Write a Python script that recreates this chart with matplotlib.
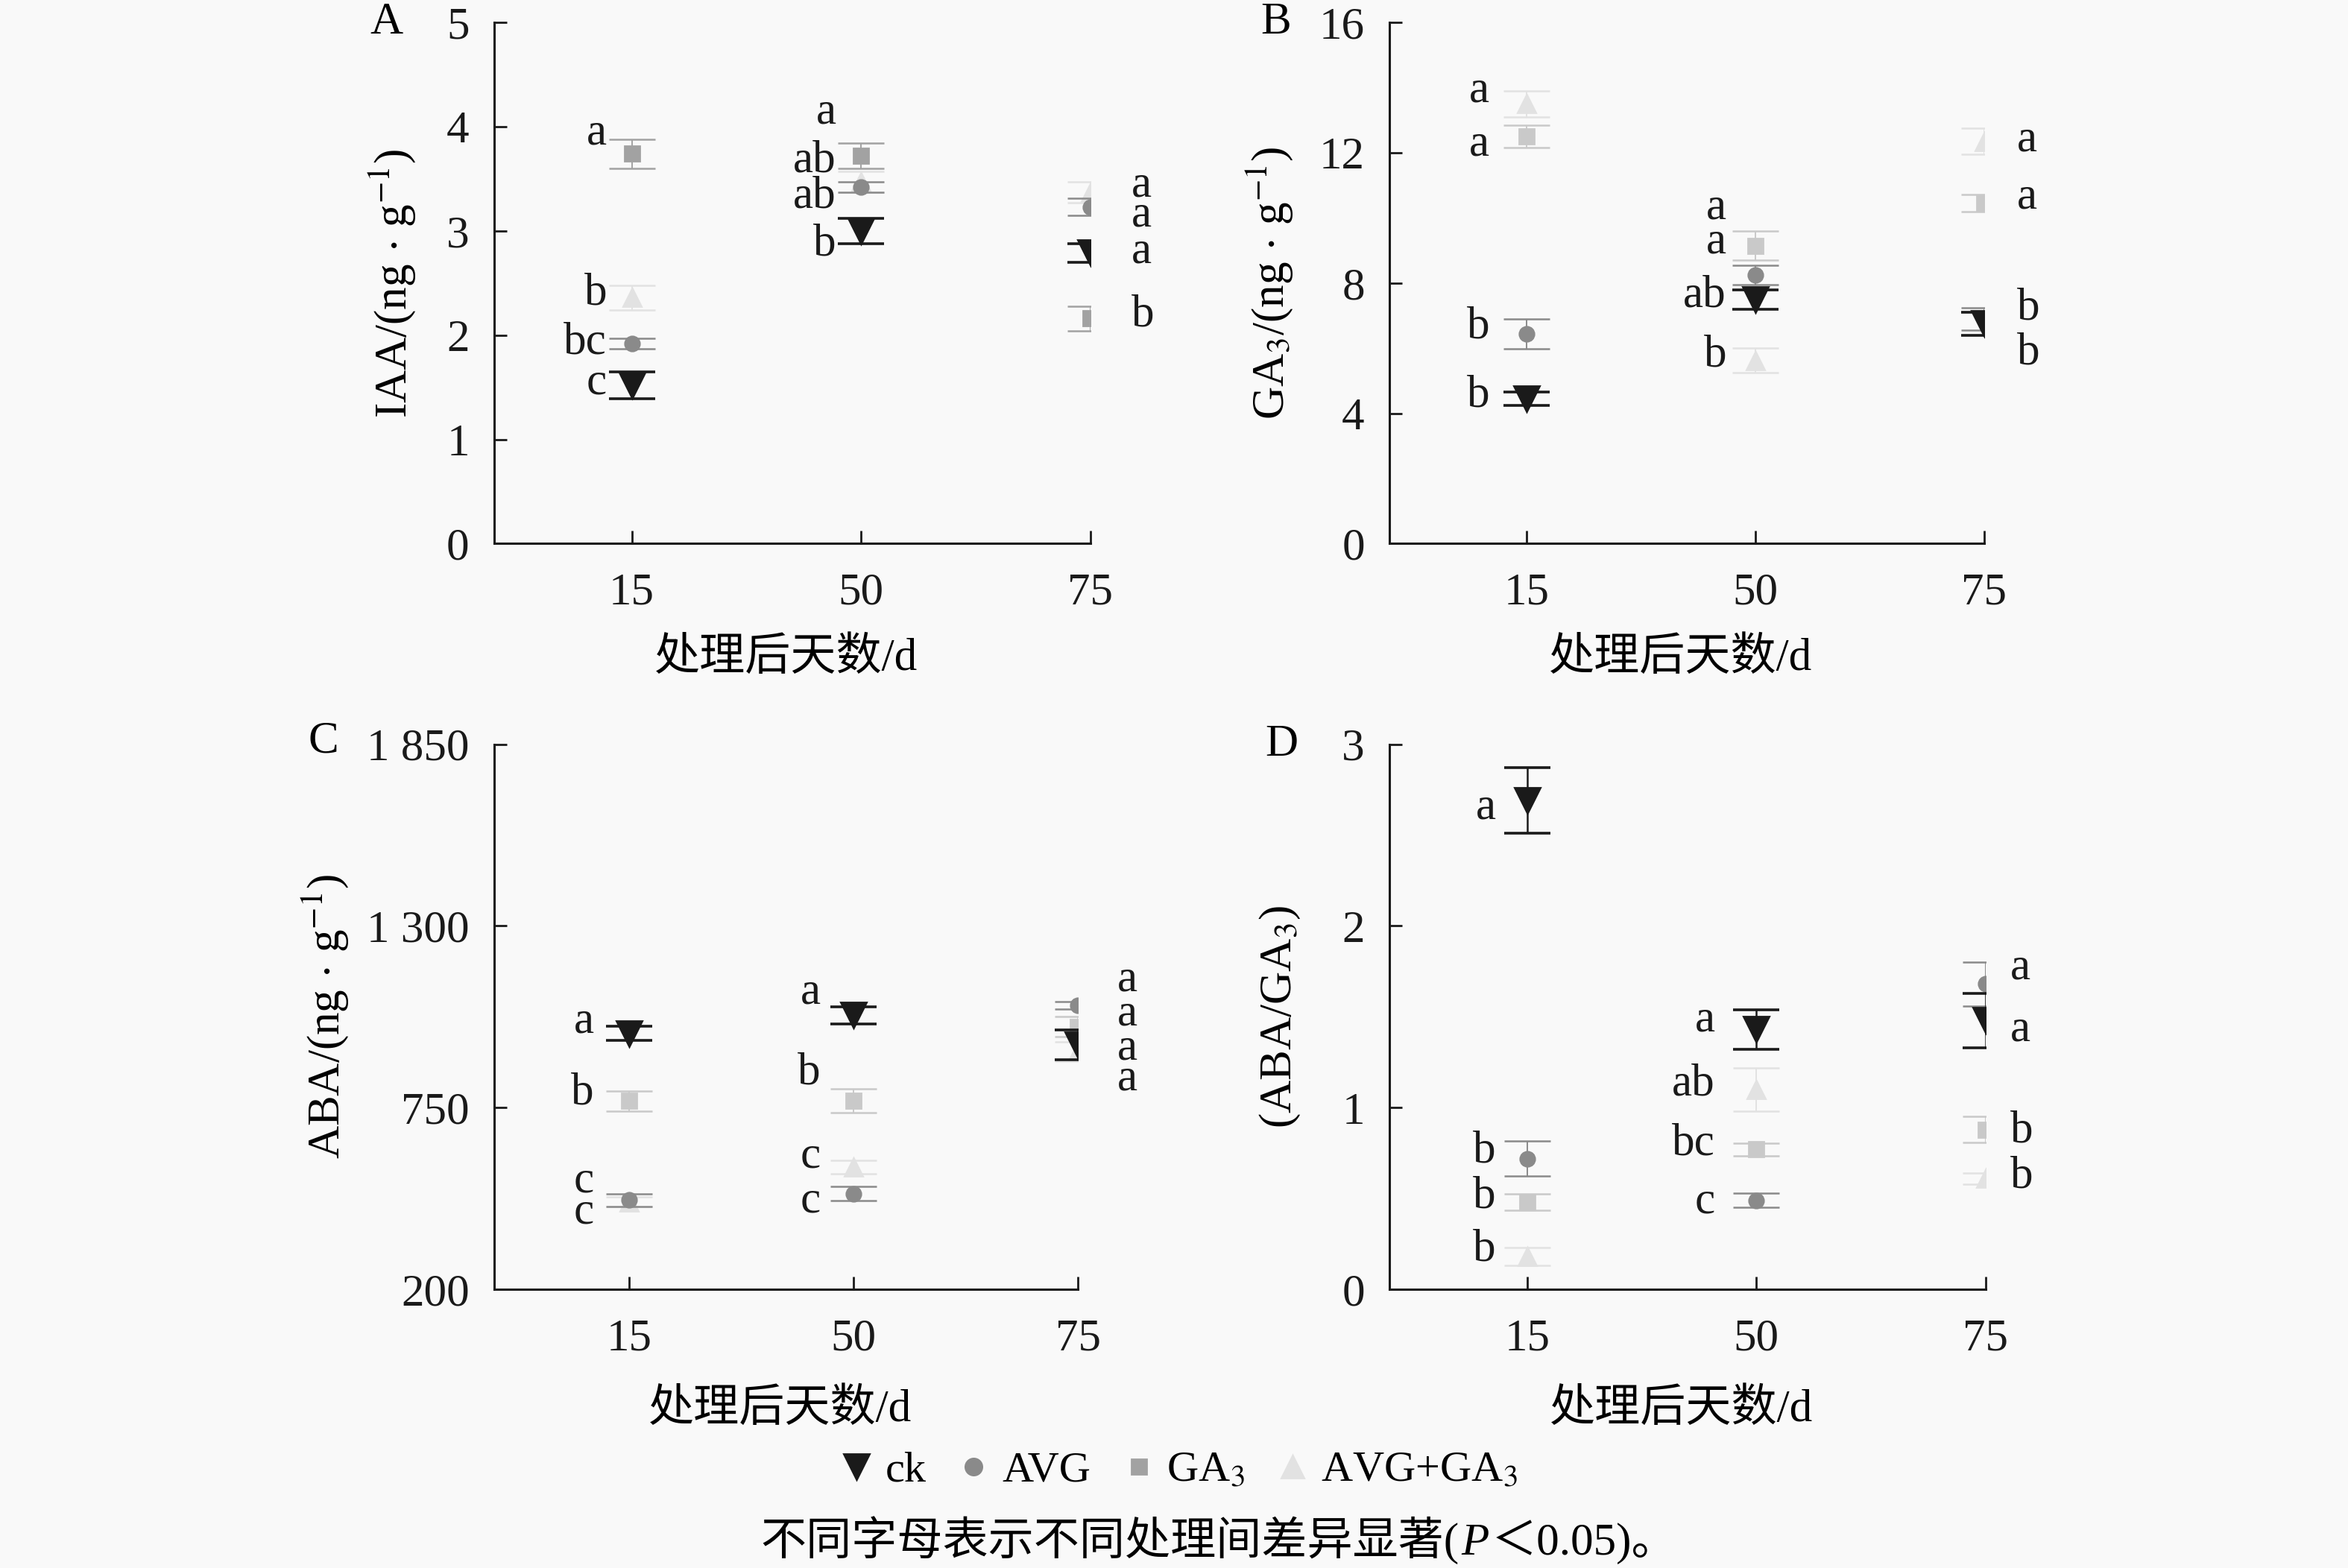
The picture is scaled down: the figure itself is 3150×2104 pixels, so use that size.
import matplotlib
matplotlib.use('Agg')
import matplotlib.pyplot as plt
from matplotlib.lines import Line2D

# ---------------- data ----------------
days = ['15', '50', '75']
treatments = ['ck', 'AVG', 'GA3', 'AVG+GA3']

# A: IAA
iaa_mean = {'ck': [1.52, 3.00, 2.79], 'AVG': [1.92, 3.42, 3.23],
            'GA3': [3.74, 3.72, 2.16], 'AVG+GA3': [2.36, 3.47, 3.37]}
iaa_err = {'ck': [0.13, 0.12, 0.09], 'AVG': [0.05, 0.05, 0.08],
           'GA3': [0.14, 0.12, 0.12], 'AVG+GA3': [0.12, 0.10, 0.10]}
iaa_lab = [['a', 'b', 'bc', 'c'], ['a', 'ab', 'ab', 'b'], ['a', 'a', 'a', 'b']]
iaa_lab_y = [[3.94, 2.40, 1.93, 1.54], [4.14, 3.67, 3.33, 2.87], [3.44, 3.15, 2.80, 2.19]]

# B: GA3
ga_mean = {'ck': [4.45, 7.50, 6.75], 'AVG': [6.44, 8.25, 6.90],
           'GA3': [12.5, 9.15, 10.45], 'AVG+GA3': [13.5, 5.62, 12.35]}
ga_err = {'ck': [0.20, 0.30, 0.35], 'AVG': [0.45, 0.30, 0.35],
          'GA3': [0.35, 0.45, 0.26], 'AVG+GA3': [0.40, 0.38, 0.40]}
ga_lab = [['a', 'a', 'b', 'b'], ['a', 'a', 'ab', 'b'], ['a', 'a', 'b', 'b']]
ga_lab_y = [[13.9, 12.26, 6.64, 4.54], [10.3, 9.25, 7.62, 5.79], [12.4, 10.63, 7.23, 5.85]]

# C: ABA
aba_mean = {'ck': [975, 1030, 940], 'AVG': [470, 490, 1060],
            'GA3': [770, 770, 995], 'AVG+GA3': [465, 570, 920]}
aba_err = {'ck': [22, 26, 45], 'AVG': [20, 22, 12],
           'GA3': [30, 36, 30], 'AVG+GA3': [15, 20, 30]}
aba_lab = [['a', 'b', 'c', 'c'], ['a', 'b', 'c', 'c'], ['a', 'a', 'a', 'a']]
aba_lab_y = [[1011, 793, 529, 434], [1099, 855, 603, 468], [1136, 1034, 929, 837]]

# D: ABA/GA3
ratio_mean = {'ck': [2.69, 1.43, 1.48], 'AVG': [0.72, 0.49, 1.68],
              'GA3': [0.48, 0.77, 0.88], 'AVG+GA3': [0.18, 1.10, 0.61]}
ratio_err = {'ck': [0.18, 0.11, 0.15], 'AVG': [0.095, 0.04, 0.12],
             'GA3': [0.045, 0.035, 0.07], 'AVG+GA3': [0.05, 0.12, 0.03]}
ratio_lab = [['a', 'b', 'b', 'b'], ['a', 'ab', 'bc', 'c'], ['a', 'a', 'b', 'b']]
ratio_lab_y = [[2.65, 0.76, 0.51, 0.22], [1.48, 1.13, 0.80, 0.48], [1.77, 1.43, 0.87, 0.62]]

# ---------------- style ----------------
FONTS = ['Liberation Serif', 'Noto Sans CJK SC']
plt.rcParams.update({
    'font.family': FONTS,
    'font.size': 22,
    'mathtext.fontset': 'stix',
    'axes.linewidth': 1.1,
    'axes.edgecolor': '#1a1a1a',
})

BG = '#f9f9f9'
marker = {'ck': 'v', 'AVG': 'o', 'GA3': 's', 'AVG+GA3': '^'}
msize = {'ck': 12, 'AVG': 7, 'GA3': 7, 'AVG+GA3': 8.5}
zord = {'ck': 5, 'AVG': 4, 'GA3': 3, 'AVG+GA3': 2}

panels = [
    # letter, rect, mean, err, labels, label y, yticks, ytick labels, ylabel, label offsets, GA3 colour, ylabel x
    ('A', [0.2105, 0.6533, 0.2538, 0.3324], iaa_mean, iaa_err, iaa_lab, iaa_lab_y,
     [0, 1, 2, 3, 4, 5], ['0', '1', '2', '3', '4', '5'],
     r'IAA/(ng$\,\cdot\,$g$^{-1}$)', [-12, -12, 20], '#a2a2a2', -0.171, (0.1645, 0.9857)),
    ('B', [0.5918, 0.6533, 0.2532, 0.3324], ga_mean, ga_err, ga_lab, ga_lab_y,
     [0, 4, 8, 12, 16], ['0', '4', '8', '12', '16'],
     r'GA$_3$/(ng$\,\cdot\,$g$^{-1}$)', [-18, -14, 16], '#c9c9c9', -0.2015, (0.5434, 0.9857)),
    ('C', [0.2105, 0.1777, 0.2487, 0.3477], aba_mean, aba_err, aba_lab, aba_lab_y,
     [200, 750, 1300, 1850], ['200', '750', '1 300', '1 850'],
     r'ABA/(ng$\,\cdot\,$g$^{-1}$)', [-17, -16, 19], '#c9c9c9', -0.29, (0.1378, 0.5272)),
    ('D', [0.5918, 0.1777, 0.2538, 0.3477], ratio_mean, ratio_err, ratio_lab, ratio_lab_y,
     [0, 1, 2, 3], ['0', '1', '2', '3'],
     r'(ABA/GA$_3$)', [-15, -20, 12], '#c9c9c9', -0.183, (0.5459, 0.5253)),
]

fig = plt.figure(figsize=(15.75, 10.52), dpi=200, facecolor=BG)

xpos = [1, 2, 3]
for (letter, rect, mean, err, lab, lab_y, yt, ytl, ylab, dxs, ga_col,
     ylab_x, letter_xy) in panels:
    ax = fig.add_axes(rect)
    ax.set_facecolor(BG)
    colors = {'ck': '#1a1a1a', 'AVG': '#8a8a8a', 'GA3': ga_col, 'AVG+GA3': '#e2e2e2'}
    for t in treatments:
        is_ck = t == 'ck'
        ax.errorbar(xpos, mean[t], yerr=err[t], fmt=marker[t], ms=msize[t],
                    color=colors[t], mec=colors[t], ecolor=colors[t],
                    elinewidth=0.9 if is_ck else 0.7, capsize=11,
                    capthick=1.3 if is_ck else 0.9, zorder=zord[t])
    for i, x in enumerate(xpos):
        dx = dxs[i]
        ha = 'right' if dx < 0 else 'left'
        for txt, yv in zip(lab[i], lab_y[i]):
            ax.annotate(txt, xy=(x, yv), xytext=(dx, 0), textcoords='offset points',
                        ha=ha, va='center', fontsize=22, color='#1a1a1a')
    ax.set_xlim(0.4, 3.0)
    ax.set_ylim(yt[0], yt[-1])
    ax.set_xticks(xpos)
    ax.set_xticklabels(days)
    ax.set_yticks(yt)
    ax.set_yticklabels(ytl)
    ax.spines['top'].set_visible(False)
    ax.spines['right'].set_visible(False)
    ax.tick_params(axis='both', direction='in', length=6, width=1.0,
                   labelsize=22, colors='#1a1a1a')
    ax.tick_params(axis='x', pad=14)
    ax.tick_params(axis='y', pad=12)
    ax.set_ylabel(ylab, fontsize=22)
    ax.yaxis.set_label_coords(ylab_x, 0.5)
    ax.yaxis.label.set_va('center')
    ax.set_xlabel('处理后天数/d', fontsize=22)
    ax.xaxis.set_label_coords(0.49, -0.22)
    ax.xaxis.label.set_va('center')
    fig.text(letter_xy[0], letter_xy[1], letter, fontsize=22, ha='center', va='center')

# legend
leg_colors = {'ck': '#1a1a1a', 'AVG': '#8a8a8a', 'GA3': '#a2a2a2', 'AVG+GA3': '#e2e2e2'}
leg_ms = {'ck': 12, 'AVG': 8, 'GA3': 7, 'AVG+GA3': 11}
leg_text = {'ck': 'ck', 'AVG': 'AVG', 'GA3': r'GA$_3$', 'AVG+GA3': r'AVG+GA$_3$'}
handles = [Line2D([], [], ls='none', marker=marker[t], ms=leg_ms[t],
                  color=leg_colors[t], mec=leg_colors[t]) for t in treatments]
fig.legend(handles, [leg_text[t] for t in treatments], loc='center',
           bbox_to_anchor=(0.502, 0.062), ncol=4, frameon=False, fontsize=21,
           handlelength=0.8, handletextpad=0.25, columnspacing=0.7)

# caption
t1 = fig.text(0.324, 0.018, '不同字母表示不同处理间差异显著(', fontsize=22,
              ha='left', va='center', family=FONTS)
t2 = plt.annotate('P', xy=(1, 0), xycoords=t1, xytext=(1, 0), textcoords='offset points',
                  fontsize=22, style='italic', family='Liberation Serif',
                  ha='left', va='bottom')
plt.annotate('＜0.05)。', xy=(1, 0), xycoords=t2, xytext=(1, 0),
             textcoords='offset points', fontsize=22, family=FONTS,
             ha='left', va='bottom')

fig.savefig('out.png', dpi=200, facecolor=BG)
